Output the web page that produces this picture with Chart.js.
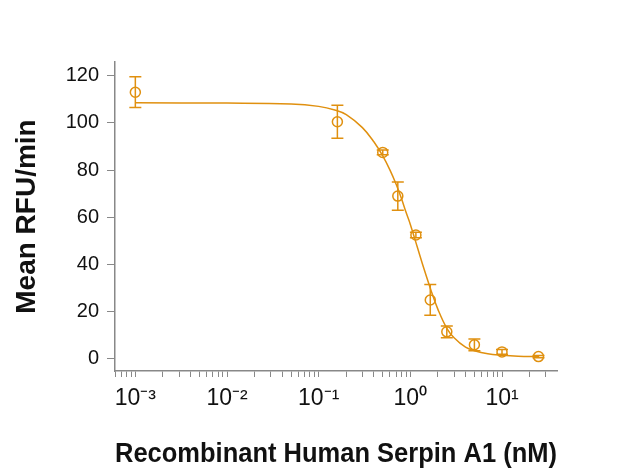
<!DOCTYPE html>
<html><head><meta charset="utf-8">
<script src="https://cdn.jsdelivr.net/npm/chart.js@4"></script>
<style>body{margin:0;background:#fff}#w{width:640px;height:475px}</style>
</head><body><div id="w"><canvas id="c"></canvas></div>
<script>
const doseX = [0.001, 0.16, 0.5, 0.73, 1.15, 1.65, 2.5, 5, 10, 25];
const meanY = [113, 100.5, 87.5, 69, 52.5, 25, 11.5, 6, 3, 1];
const errY  = [6.5, 7, 1, 6, 1.2, 6.5, 2.5, 2.5, 1, 0.5];
const fitX = [0.001, 0.01, 0.05, 0.1, 0.15, 0.2, 0.3, 0.4, 0.5, 0.6, 0.7, 0.8, 0.9, 1.0, 1.2, 1.4, 1.7, 2.0, 2.5, 3, 4, 5, 7, 10, 15, 25];
const fitY = [108.5, 108.4, 108, 107, 105.5, 103.5, 98, 92, 86, 80, 74, 68, 62, 57, 47, 38.5, 28.5, 21, 13, 9, 5, 3.5, 2.2, 1.6, 1.2, 1];
const xTickVals = [0.001, 0.01, 0.1, 1, 10];
const xTickLabels = ['10⁻³','10⁻²','10⁻¹','10⁰','10¹'];
const col = '#e0900f';

const errPlugin = {id:'err', afterDatasetsDraw(ch){
  const c=ch.ctx, xs=ch.scales.x, ys=ch.scales.y;
  c.save(); c.strokeStyle=col; c.lineWidth=1.5;
  doseX.forEach((x,i)=>{
    const px=xs.getPixelForValue(x), t=ys.getPixelForValue(meanY[i]+errY[i]), b=ys.getPixelForValue(meanY[i]-errY[i]);
    c.beginPath(); c.moveTo(px,t); c.lineTo(px,b);
    c.moveTo(px-6,t); c.lineTo(px+6,t); c.moveTo(px-6,b); c.lineTo(px+6,b); c.stroke();
  });
  c.restore();
}};

new Chart(document.getElementById('c'), {
  type:'scatter',
  data:{datasets:[
    {data:fitX.map((x,i)=>({x,y:fitY[i]})), showLine:true, borderColor:col, borderWidth:1.5, pointRadius:0, tension:0.4, fill:false},
    {data:doseX.map((x,i)=>({x,y:meanY[i]})), showLine:false, borderColor:col, backgroundColor:'rgba(0,0,0,0)', borderWidth:1.5, pointRadius:5}
  ]},
  options:{
    responsive:true, maintainAspectRatio:false, animation:false,
    layout:{padding:{top:62,right:83,left:6,bottom:0}},
    plugins:{legend:{display:false}, tooltip:{enabled:false}},
    scales:{
      x:{type:'logarithmic', min:Math.pow(10,-3.22), max:Math.pow(10,1.6),
        afterBuildTicks(s){ const t=[]; for(let e=-4;e<=1;e++) for(let m=1;m<10;m++){const v=m*Math.pow(10,e); if(v>=s.min&&v<=s.max) t.push({value:v});} s.ticks=t; },
        afterFit(s){ s.height=104; },
        grid:{display:true, drawOnChartArea:false, tickLength:6, color:'#888'},
        border:{color:'#888', width:1.5},
        ticks:{autoSkip:false, maxRotation:0, padding:8, color:'#111', font:{family:'Liberation Sans', size:23},
          callback(v){ const i=xTickVals.findIndex(t=>Math.abs(Math.log10(t)-Math.log10(v))<1e-6); return i>=0?xTickLabels[i]:''; }},
        title:{display:true, text:'Recombinant Human Serpin A1 (nM)', color:'#111', font:{family:'Liberation Sans', size:27, weight:'bold'}, padding:{top:12}}
      },
      y:{min:-5.1, max:125.8,
        afterBuildTicks(s){ s.ticks=[0,20,40,60,80,100,120].map(v=>({value:v})); },
        afterFit(s){ s.width=109; },
        grid:{display:true, drawOnChartArea:false, tickLength:8, color:'#888'},
        border:{color:'#888', width:1.5},
        ticks:{padding:8, color:'#111', font:{family:'Liberation Sans', size:20}},
        title:{display:true, text:'Mean RFU/min', color:'#111', font:{family:'Liberation Sans', size:28, weight:'bold'}, padding:{bottom:2}}
      }
    }
  },
  plugins:[errPlugin]
});
</script></body></html>
